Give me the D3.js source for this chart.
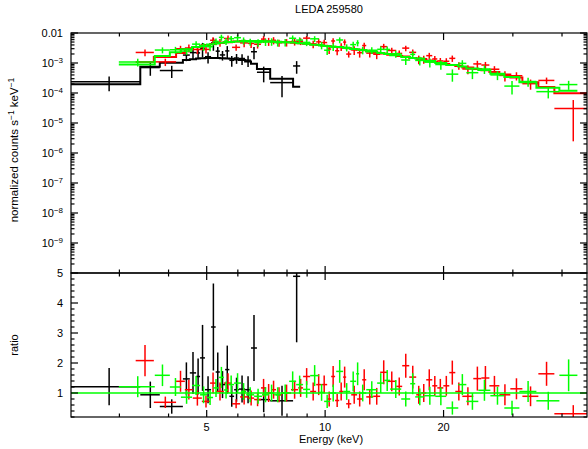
<!DOCTYPE html>
<html>
<head>
<meta charset="utf-8">
<script src="https://cdn.jsdelivr.net/npm/d3@7"></script>
<style>
  body { margin: 0; background: #fff; }
  svg { display: block; font-family: "Liberation Sans", Arial, sans-serif; }
</style>
</head>
<body>
<div id="chart"></div>
<script>
// XRT (black), FPMA (red), FPMB (green): bin edges in keV, folded model, data/model ratio and its error
const blackEdges = [2.26, 3.39, 3.80, 4.35, 4.53, 4.70, 4.81, 4.95, 5.13, 5.27, 5.40, 5.57, 5.71, 5.87, 6.04, 6.26, 6.48, 6.71, 7.25, 8.29, 8.64];
const blackModel = [1.95e-4, 7.5e-4, 1.02e-3, 1.25e-3, 1.33e-3, 1.4e-3, 1.43e-3, 1.46e-3, 1.46e-3, 1.46e-3, 1.45e-3, 1.42e-3, 1.38e-3, 1.32e-3, 1.25e-3, 1.12e-3, 9.5e-4, 6.3e-4, 3.0e-4, 1.63e-4];
const blackRatio = [1.21, 0.94, 0.55, 1.47, 1.67, 1.55, 2.17, 1.11, 3.20, 1.70, 1.28, 1.78, 0.89, 1.11, 1.13, 1.11, 2.50, 0.78, 0.74, 4.89];
const blackErr = [0.62, 0.44, 0.24, 0.55, 0.70, 0.60, 1.10, 0.45, 1.45, 0.65, 0.45, 0.80, 0.35, 0.40, 0.45, 0.45, 1.10, 0.42, 0.50, 2.20];

const redEdges = [3.30, 3.67, 4.18, 4.40, 4.61, 4.86, 5.10, 5.28, 5.53, 5.80,
  6.08, 6.37, 6.60, 6.87, 7.08, 7.29, 7.50, 7.77, 8.19, 8.54,
  8.79, 9.16, 9.49, 9.77, 10.12, 10.36, 10.60, 10.86, 11.11, 11.31,
  11.65, 12.06, 12.42, 12.72, 13.25, 13.80, 14.38, 15.16, 15.70, 16.36,
  17.04, 17.55, 18.07, 18.72, 19.28, 19.97, 20.68, 21.42, 22.32, 23.80,
  24.95, 26.15, 27.72, 29.56, 31.72, 34.83, 38.25, 47.2];
const redModel = [1.08e-3, 1.58e-3, 2.15e-3, 2.85e-3, 3.4e-3, 3.95e-3, 4.3e-3, 4.64e-3, 4.95e-3, 5.2e-3,
  5.38e-3, 5.41e-3, 5.41e-3, 5.35e-3, 5.3e-3, 5.15e-3, 5.05e-3, 4.9e-3, 4.7e-3, 4.54e-3,
  4.35e-3, 4.1e-3, 3.95e-3, 3.75e-3, 3.65e-3, 3.5e-3, 3.42e-3, 3.35e-3, 3.25e-3, 3.1e-3,
  2.9e-3, 2.75e-3, 2.65e-3, 2.45e-3, 2.2e-3, 2.08e-3, 1.88e-3, 1.71e-3, 1.64e-3, 1.48e-3,
  1.42e-3, 1.35e-3, 1.22e-3, 1.1e-3, 1.0e-3, 9.2e-4, 8.5e-4, 7.9e-4, 7.1e-4, 6.3e-4,
  5.7e-4, 5.0e-4, 4.1e-4, 3.3e-4, 2.3e-4, 1.6e-4, 9.8e-5];
const redRatio = [2.08, 0.69, 1.39, 1.11, 0.83, 0.72, 1.33, 1.05, 1.33, 0.64,
  0.87, 0.83, 0.78, 1.17, 1.00, 1.11, 0.94, 1.00, 1.11, 1.17,
  1.55, 1.05, 1.28, 1.28, 0.80, 1.55, 0.75, 1.05, 1.53, 0.64,
  0.94, 0.80, 1.44, 0.87, 0.89, 1.69, 1.39, 1.22, 1.91, 1.53,
  0.94, 1.00, 1.44, 1.24, 1.17, 1.24, 1.68, 1.05, 0.89, 1.48,
  1.50, 1.24, 0.94, 1.14, 0.89, 1.64, 0.31];
const redErr = [0.52, 0.19, 0.35, 0.33, 0.25, 0.20, 0.35, 0.30, 0.33, 0.15,
  0.25, 0.25, 0.22, 0.30, 0.30, 0.30, 0.25, 0.28, 0.30, 0.30,
  0.28, 0.30, 0.35, 0.30, 0.25, 0.35, 0.22, 0.30, 0.35, 0.15,
  0.30, 0.25, 0.35, 0.25, 0.28, 0.40, 0.33, 0.30, 0.40, 0.38,
  0.30, 0.30, 0.35, 0.33, 0.30, 0.33, 0.40, 0.30, 0.30, 0.40,
  0.40, 0.33, 0.35, 0.35, 0.33, 0.40, 0.285];

const greenEdges = [2.99, 3.69, 4.03, 4.30, 4.59, 4.81, 5.01, 5.19, 5.37, 5.53,
  5.67, 5.87, 6.11, 6.30, 6.60, 6.91, 7.20, 7.42, 7.73, 8.10,
  8.44, 8.79, 9.16, 9.65, 9.94, 10.30, 10.67, 11.11, 11.58, 11.99,
  12.20, 12.72, 13.56, 14.13, 14.63, 15.61, 16.45, 16.94, 17.86, 19.05,
  20.32, 21.80, 22.85, 24.51, 26.30, 28.54, 31.17, 34.43, 39.39, 43.77];
const greenModel = [8.9e-4, 1.7e-3, 2.3e-3, 2.9e-3, 3.4e-3, 3.8e-3, 4.1e-3, 4.5e-3, 4.7e-3, 4.9e-3,
  5.05e-3, 5.25e-3, 5.35e-3, 5.41e-3, 5.41e-3, 5.35e-3, 5.2e-3, 5.1e-3, 4.9e-3, 4.8e-3,
  4.54e-3, 4.35e-3, 4.05e-3, 3.85e-3, 3.7e-3, 3.5e-3, 3.4e-3, 3.15e-3, 2.95e-3, 2.85e-3,
  2.7e-3, 2.4e-3, 2.15e-3, 2.0e-3, 1.8e-3, 1.57e-3, 1.48e-3, 1.4e-3, 1.17e-3, 1.0e-3,
  8.5e-4, 7.6e-4, 6.6e-4, 5.8e-4, 4.4e-4, 3.4e-4, 2.3e-4, 1.5e-4, 1.2e-4];
const greenRatio = [1.21, 1.59, 1.20, 0.86, 1.25, 0.94, 0.85, 1.17, 1.52, 1.10,
  1.28, 1.33, 1.05, 0.94, 0.89, 0.94, 1.00, 0.94, 1.00, 1.39,
  1.28, 1.12, 1.58, 1.02, 0.72, 1.00, 1.72, 1.05, 1.39, 1.64,
  1.00, 1.11, 1.33, 1.42, 1.13, 0.80, 1.31, 0.87, 0.91, 0.89,
  0.50, 1.28, 0.72, 1.09, 0.91, 0.50, 1.05, 0.74, 1.59];
const greenErr = [0.35, 0.36, 0.30, 0.22, 0.32, 0.28, 0.25, 0.30, 0.35, 0.28,
  0.30, 0.33, 0.28, 0.25, 0.25, 0.25, 0.28, 0.25, 0.28, 0.33,
  0.30, 0.28, 0.35, 0.28, 0.22, 0.28, 0.38, 0.28, 0.33, 0.38,
  0.28, 0.28, 0.33, 0.35, 0.30, 0.25, 0.35, 0.28, 0.30, 0.30,
  0.22, 0.35, 0.28, 0.35, 0.30, 0.24, 0.35, 0.30, 0.53];

// Ticks
const xMajor = [5, 10, 20];
const yTopLabels = [-2, -3, -4, -5, -6, -7, -8, -9];
const yRatioLabels = [1, 2, 3, 4, 5];

const W = 588, H = 449;
const L = 71, R = 587, T = 33, MID = 273, B = 417;

let svg = d3.select('#chart').append('svg')
  .attr('width', W).attr('height', H);

svg.append('rect').attr('width', W).attr('height', H).attr('fill', '#fff');

let x = d3.scaleLog().domain([2.26, 46.3]).range([L, R]);
let yTop = d3.scaleLog().domain([1e-10, 0.01]).range([MID, T]);
let yRatio = d3.scaleLinear().domain([0.2, 5]).range([B, MID]);

let defs = svg.append('defs');
defs.append('clipPath').attr('id', 'clipTop')
  .append('rect').attr('x', L).attr('y', T).attr('width', R - L).attr('height', MID - T);
defs.append('clipPath').attr('id', 'clipRatio')
  .append('rect').attr('x', L).attr('y', MID).attr('width', R - L).attr('height', B - MID);

let topG = svg.append('g').attr('clip-path', 'url(#clipTop)');
let ratioG = svg.append('g').attr('clip-path', 'url(#clipRatio)');

function makeBins(edges, model, ratio, err) {
  return ratio.map(function(r, i) {
    return {lo: edges[i], hi: edges[i + 1], c: (edges[i] + edges[i + 1]) / 2, m: model[i], r: r, e: err[i]};
  });
}

function drawSet(bins, color) {
  // crosses in counts space: ratio times folded model
  let gt = topG.append('g').attr('stroke', color).attr('stroke-width', 1.5);
  bins.forEach(function(d) {
    let v = d.r * d.m;
    gt.append('line')
      .attr('x1', x(d.lo)).attr('x2', x(d.hi))
      .attr('y1', yTop(v)).attr('y2', yTop(v));
    gt.append('line')
      .attr('x1', x(d.c)).attr('x2', x(d.c))
      .attr('y1', yTop(Math.max((d.r - d.e) * d.m, 1e-11)))
      .attr('y2', yTop((d.r + d.e) * d.m));
  });

  // model histogram
  let steps = bins.map(function(d) { return [d.lo, d.m]; });
  steps.push([bins[bins.length - 1].hi, bins[bins.length - 1].m]);
  topG.append('path')
    .datum(steps)
    .attr('fill', 'none')
    .attr('stroke', color)
    .attr('stroke-width', 2)
    .attr('d', d3.line()
      .x(function(d) { return x(d[0]); })
      .y(function(d) { return yTop(d[1]); })
      .curve(d3.curveStepAfter));

  // ratio crosses
  let gr = ratioG.append('g').attr('stroke', color).attr('stroke-width', 1.5);
  bins.forEach(function(d) {
    gr.append('line')
      .attr('x1', x(d.lo)).attr('x2', x(d.hi))
      .attr('y1', yRatio(d.r)).attr('y2', yRatio(d.r));
    gr.append('line')
      .attr('x1', x(d.c)).attr('x2', x(d.c))
      .attr('y1', yRatio(d.r - d.e)).attr('y2', yRatio(d.r + d.e));
  });
}

drawSet(makeBins(blackEdges, blackModel, blackRatio, blackErr), '#000');
drawSet(makeBins(redEdges, redModel, redRatio, redErr), '#ff0000');
drawSet(makeBins(greenEdges, greenModel, greenRatio, greenErr), '#00ff00');

// unity line
ratioG.append('line')
  .attr('x1', L).attr('x2', R)
  .attr('y1', yRatio(1)).attr('y2', yRatio(1))
  .attr('stroke', '#00ff00').attr('stroke-width', 1.5);

/* Frames and ticks */
let axes = svg.append('g').attr('stroke', '#000').attr('stroke-width', 1.2).attr('fill', 'none');
axes.append('rect').attr('x', L).attr('y', T).attr('width', R - L).attr('height', MID - T);
axes.append('rect').attr('x', L).attr('y', MID).attr('width', R - L).attr('height', B - MID);

let xt = x.ticks();
xt.forEach(function(t) {
  let len = xMajor.indexOf(t) >= 0 ? 7 : 3.5;
  let px = x(t);
  [[T, 1], [MID, -1], [MID, 1], [B, -1]].forEach(function(p) {
    axes.append('line').attr('x1', px).attr('x2', px)
      .attr('y1', p[0]).attr('y2', p[0] + p[1] * len);
  });
});

yTop.ticks().forEach(function(t) {
  let e = Math.log10(t);
  let major = Math.abs(e - Math.round(e)) < 1e-6;
  let len = major ? 7 : 3.5;
  let py = yTop(t);
  axes.append('line').attr('x1', L).attr('x2', L + len).attr('y1', py).attr('y2', py);
  axes.append('line').attr('x1', R).attr('x2', R - len).attr('y1', py).attr('y2', py);
});

d3.range(2, 50, 2).forEach(function(k) {
  let t = k / 10;
  let major = k % 10 === 0;
  let len = major ? 7 : 3.5;
  let py = yRatio(t);
  axes.append('line').attr('x1', L).attr('x2', L + len).attr('y1', py).attr('y2', py);
  axes.append('line').attr('x1', R).attr('x2', R - len).attr('y1', py).attr('y2', py);
});

/* Labels */
let txt = svg.append('g').attr('fill', '#000').style('font-size', '11px');

yTopLabels.forEach(function(e) {
  let t = txt.append('text')
    .attr('x', 63).attr('y', yTop(Math.pow(10, e)))
    .attr('dy', '0.36em')
    .attr('text-anchor', 'end');
  if (e === -2) {
    t.text('0.01');
  } else {
    t.append('tspan').text('10');
    t.append('tspan').attr('dy', '-4').style('font-size', '8px').text('\u2212' + (-e));
  }
});

yRatioLabels.forEach(function(v) {
  txt.append('text')
    .attr('x', 63).attr('y', yRatio(v))
    .attr('dy', '0.36em')
    .attr('text-anchor', 'end')
    .text(v);
});

xMajor.forEach(function(v) {
  txt.append('text')
    .attr('x', x(v)).attr('y', 431)
    .attr('text-anchor', 'middle')
    .text(v);
});

txt.append('text')
  .attr('x', 331).attr('y', 443)
  .attr('text-anchor', 'middle')
  .text('Energy (keV)');

txt.append('text')
  .attr('x', (L + R) / 2).attr('y', 13)
  .attr('text-anchor', 'middle')
  .text('LEDA 259580');

let yl = txt.append('text')
  .attr('transform', 'translate(17.5,150) rotate(-90)')
  .attr('text-anchor', 'middle')
  .style('font-size', '11.5px');
yl.append('tspan').text('normalized counts s');
yl.append('tspan').attr('dy', '-4').style('font-size', '8.5px').text('\u22121');
yl.append('tspan').attr('dy', '4').text(' keV');
yl.append('tspan').attr('dy', '-4').style('font-size', '8.5px').text('\u22121');

txt.append('text')
  .attr('transform', 'translate(17.5,' + ((MID + B) / 2) + ') rotate(-90)')
  .attr('text-anchor', 'middle')
  .text('ratio');
</script>
</body>
</html>
